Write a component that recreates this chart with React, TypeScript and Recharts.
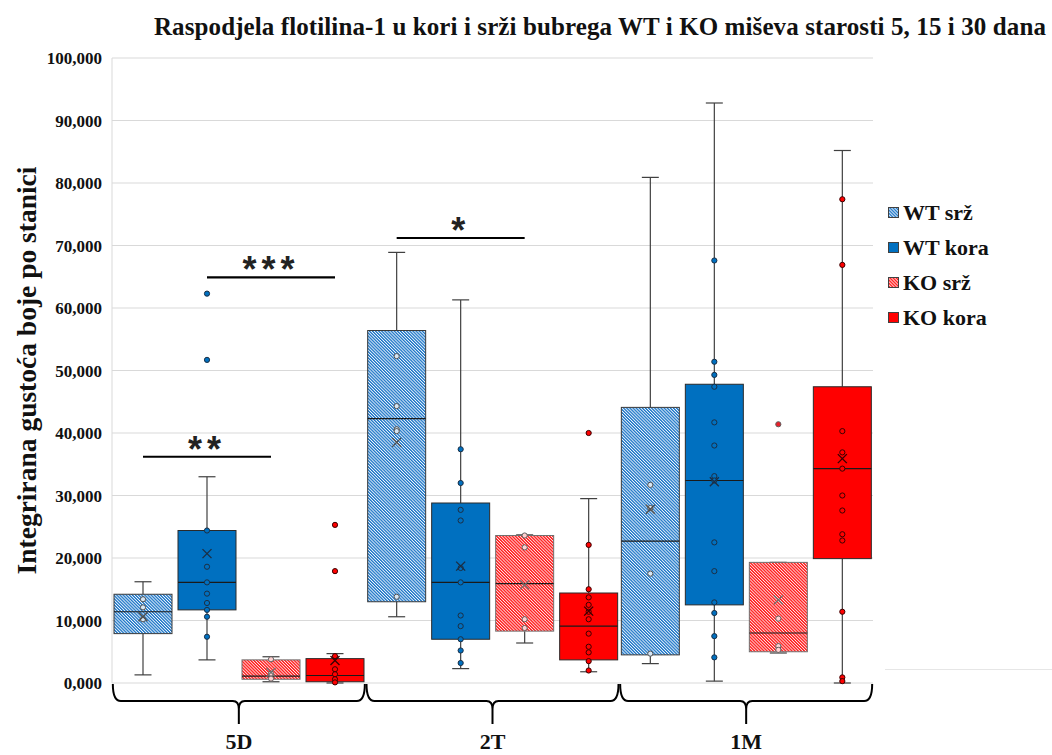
import React from "react";
import { ComposedChart, Bar, XAxis, YAxis, CartesianGrid, Legend } from "recharts";

const categories = ["5D", "2T", "1M"];
const seriesNames = ["WT srž", "WT kora", "KO srž", "KO kora"];
const yTicks = [0, 10000, 20000, 30000, 40000, 50000, 60000, 70000, 80000, 90000, 100000];

// WT srž
const wtSrzMin = [1300, 10600, 3100];
const wtSrzQ1 = [7900, 13000, 4500];
const wtSrzMedian = [11400, 42300, 22700];
const wtSrzQ3 = [14200, 56400, 44100];
const wtSrzMax = [16200, 68900, 80900];
const wtSrzMean = [10600, 38500, 27800];
const wtSrzPoints = [
  [13400, 12100, 10200],
  [52300, 44300, 40600, 40300, 13800],
  [31700, 28000, 17500, 4700],
];
const wtSrzOutliers = [[], [], []];

// WT kora
const wtKoraMin = [3700, 2300, 300];
const wtKoraQ1 = [11700, 7000, 12500];
const wtKoraMedian = [16100, 16100, 32400];
const wtKoraQ3 = [24400, 28800, 47800];
const wtKoraMax = [33000, 61300, 92800];
const wtKoraMean = [20700, 18700, 32200];
const wtKoraPoints = [
  [24400, 18600, 16100, 14300, 12800, 11700, 10600, 7400],
  [37400, 32000, 27700, 26000, 18400, 16100, 10800, 9100, 7000, 5200, 3200],
  [67600, 51400, 49300, 47400, 41700, 38000, 33100, 32400, 22500, 17900, 12900, 11200, 7500, 4100],
];
const wtKoraOutliers = [[62300, 51700], [], []];

// KO srž
const koSrzMin = [200, 6400, 4800];
const koSrzQ1 = [600, 8300, 5000];
const koSrzMedian = [1100, 15900, 8000];
const koSrzQ3 = [3700, 23600, 19300];
const koSrzMax = [4200, 23700, 19300];
const koSrzMean = [1700, 15700, 13300];
const koSrzPoints = [
  [3800, 1500, 700],
  [23600, 21700, 10200, 8800],
  [10300, 5900, 5300],
];
const koSrzOutliers = [[], [], [41400]];

// KO kora
const koKoraMin = [0, 1800, 0];
const koKoraQ1 = [200, 3700, 19900];
const koKoraMedian = [1200, 9100, 34300];
const koKoraQ3 = [3900, 14400, 47400];
const koKoraMax = [4700, 29500, 85200];
const koKoraMean = [3600, 11500, 35900];
const koKoraPoints = [
  [4300, 2200, 1400, 600, 100],
  [22100, 15000, 13700, 12500, 11400, 10200, 7900, 5800, 4900, 3500, 2000],
  [77400, 66900, 40300, 36900, 34300, 30000, 27600, 23800, 22800, 11400, 900, 300],
];
const koKoraOutliers = [[25300, 17900], [40000], []];

// significance bars
const sigCategory = [0, 0, 1];
const sigFrom = [0, 1, 0];
const sigTo = [2, 3, 2];
const sigValue = [36200, 64900, 71200];
const sigLabel = ["**", "***", "*"];

const FONT = '"Liberation Serif", "Times New Roman", serif';
const BAR_SIZE = 58;
const BAR_GAP = 6;

const series = [
  { key: "wtSrz", min: wtSrzMin, q1: wtSrzQ1, med: wtSrzMedian, q3: wtSrzQ3, max: wtSrzMax, mean: wtSrzMean, pts: wtSrzPoints, out: wtSrzOutliers,
    fill: "url(#hatchBlue)", boxStroke: "#3a3a3a", ptFill: "#d6e6f5", ptStroke: "#505050", outFill: "#0070C0", meanStroke: "#505050" },
  { key: "wtKora", min: wtKoraMin, q1: wtKoraQ1, med: wtKoraMedian, q3: wtKoraQ3, max: wtKoraMax, mean: wtKoraMean, pts: wtKoraPoints, out: wtKoraOutliers,
    fill: "#0070C0", boxStroke: "#2a2a2a", ptFill: "#0070C0", ptStroke: "#1b2f45", outFill: "#0070C0", meanStroke: "#1b2f45" },
  { key: "koSrz", min: koSrzMin, q1: koSrzQ1, med: koSrzMedian, q3: koSrzQ3, max: koSrzMax, mean: koSrzMean, pts: koSrzPoints, out: koSrzOutliers,
    fill: "url(#hatchRed)", boxStroke: "#707070", ptFill: "#ffd0d0", ptStroke: "#606060", outFill: "#e8202a", meanStroke: "#707070" },
  { key: "koKora", min: koKoraMin, q1: koKoraQ1, med: koKoraMedian, q3: koKoraQ3, max: koKoraMax, mean: koKoraMean, pts: koKoraPoints, out: koKoraOutliers,
    fill: "#FF0000", boxStroke: "#2a2a2a", ptFill: "#FF0000", ptStroke: "#3a0000", outFill: "#FF0000", meanStroke: "#3a0000" },
];

const data = categories.map((cat, i) => {
  const row: any = { cat };
  series.forEach((s) => {
    const all = [s.min[i], s.max[i], ...s.out[i]];
    row[s.key] = [Math.min(...all), Math.max(...all)];
  });
  return row;
});

function Patterns() {
  return (
    <defs>
      <pattern id="hatchBlue" width="2.2" height="4" patternUnits="userSpaceOnUse" patternTransform="rotate(-45)">
        <rect width="2.2" height="4" fill="#f4f9ff" />
        <rect width="1.3" height="4" fill="#1a74c6" />
      </pattern>
      <pattern id="hatchRed" width="2.2" height="4" patternUnits="userSpaceOnUse" patternTransform="rotate(-45)">
        <rect width="2.2" height="4" fill="#ffeaea" />
        <rect width="1.35" height="4" fill="#ff1a1a" />
      </pattern>
    </defs>
  );
}

function makeBox(si: number) {
  return function BoxShape(props: any) {
    const { x, y, width, height, index } = props;
    const s = series[si];
    const [lo, hi] = data[index][s.key];
    const top = Math.min(y, y + height);
    const bot = Math.max(y, y + height);
    const py = (v: number) => bot - ((v - lo) / (hi - lo)) * (bot - top);
    const cx = x + width / 2;
    const cap = 8.5;
    const yq1 = py(s.q1[index]);
    const yq3 = py(s.q3[index]);
    const ym = py(s.mean[index]);
    const sigs = sigCategory
      .map((c, k) => k)
      .filter((k) => sigCategory[k] === index && sigFrom[k] === si);
    return (
      <g>
        <Patterns />
        <line x1={cx} x2={cx} y1={py(s.max[index])} y2={yq3} stroke="#404040" strokeWidth={1.2} />
        <line x1={cx} x2={cx} y1={yq1} y2={py(s.min[index])} stroke="#404040" strokeWidth={1.2} />
        <line x1={cx - cap} x2={cx + cap} y1={py(s.max[index])} y2={py(s.max[index])} stroke="#404040" strokeWidth={1.2} />
        <line x1={cx - cap} x2={cx + cap} y1={py(s.min[index])} y2={py(s.min[index])} stroke="#404040" strokeWidth={1.2} />
        <rect x={x} y={yq3} width={width} height={yq1 - yq3} fill={s.fill} stroke={s.boxStroke} strokeWidth={1} />
        <line x1={x} x2={x + width} y1={py(s.med[index])} y2={py(s.med[index])} stroke="#1a1a1a" strokeWidth={1.2} />
        {s.pts[index].map((v, k) => (
          <circle key={"p" + k} cx={cx} cy={py(v)} r={2.6} fill={s.ptFill} stroke={s.ptStroke} strokeWidth={1} />
        ))}
        <path d={`M${cx - 4.5},${ym - 4.5}L${cx + 4.5},${ym + 4.5}M${cx + 4.5},${ym - 4.5}L${cx - 4.5},${ym + 4.5}`} stroke={s.meanStroke} strokeWidth={1.4} />
        {s.out[index].map((v, k) => (
          <circle key={"o" + k} cx={cx} cy={py(v)} r={2.6} fill={s.outFill} stroke={s.ptStroke} strokeWidth={1} />
        ))}
        {sigs.map((k) => {
          const x2 = cx + (sigTo[k] - sigFrom[k]) * (width + BAR_GAP);
          const ys = py(sigValue[k]);
          return (
            <g key={"s" + k}>
              <line x1={cx} x2={x2} y1={ys} y2={ys} stroke="#000" strokeWidth={2.2} />
              <text x={(cx + x2) / 2} y={ys + 5} textAnchor="middle" fontFamily='"Liberation Sans", Arial, sans-serif'
                fontWeight={700} fontSize={36} letterSpacing={5} fill="#222">{sigLabel[k]}</text>
            </g>
          );
        })}
      </g>
    );
  };
}

function YTick(props: any) {
  const { x, y, payload } = props;
  return (
    <text x={x - 2} y={y + 6} textAnchor="end" fontFamily={FONT} fontWeight={700} fontSize={17} fill="#111">
      {`${payload.value / 1000},000`}
    </text>
  );
}

function BraceTick(props: any) {
  const { x, y, payload } = props;
  const y0 = y;
  const h = 126;
  const yh = y0 + 18;
  const d = `M${x - h},${y0 + 1} Q${x - h},${yh} ${x - h + 8},${yh} L${x - 6},${yh} Q${x},${yh} ${x},${yh + 8} L${x},${y0 + 41}
    M${x},${y0 + 41} L${x},${yh + 8} Q${x},${yh} ${x + 6},${yh} L${x + h - 8},${yh} Q${x + h},${yh} ${x + h},${y0 + 1}`;
  return (
    <g>
      <path d={d} fill="none" stroke="#000" strokeWidth={2} />
      <text x={x} y={y0 + 66} textAnchor="middle" fontFamily={FONT} fontWeight={700} fontSize={22} fill="#111">
        {payload.value}
      </text>
    </g>
  );
}

function YLabel(props: any) {
  const vb = props.viewBox || { x: 0, y: 58, width: 112, height: 625 };
  const cy = vb.y + vb.height / 2;
  return (
    <text x={26} y={cy} transform={`rotate(-90, 26, ${cy})`} textAnchor="middle" dominantBaseline="central"
      fontFamily={FONT} fontWeight={700} fontSize={27.5} fill="#111">
      Integrirana gustoća boje po stanici
    </text>
  );
}

const renderLegend = () => (
  <div style={{ fontFamily: FONT, fontWeight: 700, fontSize: 22, color: "#111" }}>
    {seriesNames.map((n, i) => (
      <div key={n} style={{ display: "flex", alignItems: "center", height: 35 }}>
        <svg width={12} height={12} style={{ marginRight: 3 }}>
          <rect x={0.5} y={0.5} width={10} height={10} fill={series[i].fill} stroke="#404040" strokeWidth={1} />
        </svg>
        <span>{n}</span>
      </div>
    ))}
  </div>
);

export default function App() {
  return (
    <div style={{ position: "absolute", left: 0, top: 0, width: 1052, height: 755, background: "#fff" }}>
      <div style={{ position: "absolute", left: 100, top: 14, width: 1000, textAlign: "center", fontFamily: FONT,
        fontWeight: 700, fontSize: 25, lineHeight: "25px", color: "#111", letterSpacing: 0.1 }}>
        Raspodjela flotilina-1 u kori i srži bubrega WT i KO miševa starosti 5, 15 i 30 dana
      </div>
      <div style={{ position: "absolute", left: 885, top: 669, width: 167, height: 1, background: "#e6e6e6" }} />
      <ComposedChart width={1052} height={755} data={data} barGap={BAR_GAP} barSize={BAR_SIZE}
        margin={{ top: 58, right: 179, bottom: 0, left: 0 }}>
        <CartesianGrid vertical={false} stroke="#d9d9d9" strokeWidth={1.2} />
        <XAxis dataKey="cat" height={72} axisLine={false} tickLine={false} tickSize={0} tickMargin={0}
          tick={<BraceTick />} interval={0} />
        <YAxis width={112} domain={[0, 100000]} ticks={yTicks} interval={0} axisLine={{ stroke: "#d9d9d9" }}
          tickLine={false} tick={<YTick />} label={<YLabel />} />
        <Legend layout="vertical" align="center" verticalAlign="middle" content={renderLegend}
          wrapperStyle={{ left: 888, top: 195, width: 160 }} />
        {series.map((s, i) => (
          <Bar key={s.key} dataKey={s.key} name={seriesNames[i]} fill={s.fill} shape={makeBox(i)} isAnimationActive={false} />
        ))}
      </ComposedChart>
    </div>
  );
}
